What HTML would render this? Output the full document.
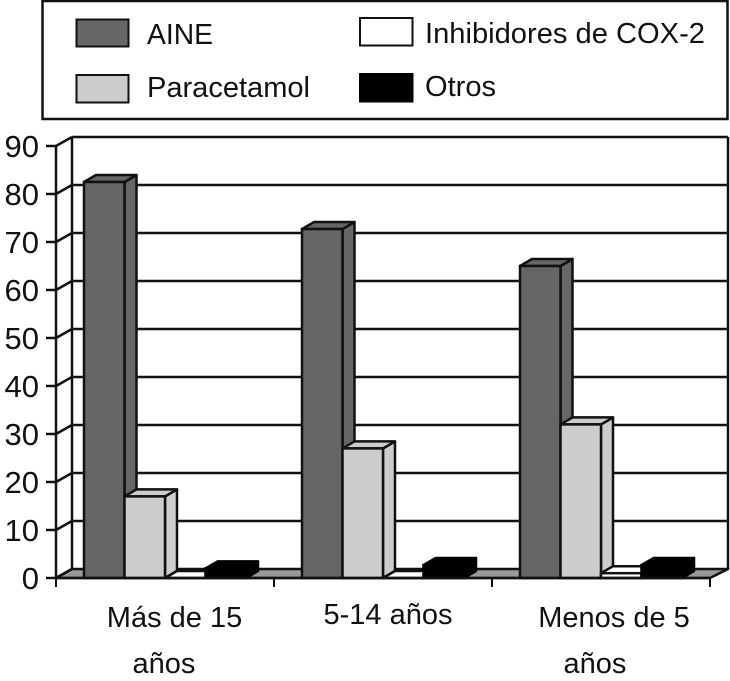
<!DOCTYPE html>
<html lang="es">
<head>
<meta charset="utf-8">
<title>Gráfico de barras</title>
<style>
html,body{margin:0;padding:0;background:#fff;}
svg{display:block;}
text{font-family:"Liberation Sans",sans-serif;fill:#111;}
</style>
</head>
<body>
<svg id="chart" xmlns="http://www.w3.org/2000/svg" width="730" height="681" viewBox="0 0 730 681">
  <g>
    <rect x="42.5" y="1" width="685" height="118" fill="#fff" stroke="#111" stroke-width="2.5"/>
    <rect x="76.5" y="19.5" width="52" height="27" fill="#666" stroke="#111" stroke-width="2"/>
    <text x="147" y="44" font-size="29" textLength="66" lengthAdjust="spacingAndGlyphs">AINE</text>
    <rect x="76.5" y="75" width="52" height="27.5" fill="#ccc" stroke="#111" stroke-width="2"/>
    <text x="147" y="97" font-size="29" textLength="163" lengthAdjust="spacingAndGlyphs">Paracetamol</text>
    <rect x="360" y="18" width="52.5" height="27.5" fill="#fff" stroke="#111" stroke-width="2"/>
    <text x="425" y="43" font-size="29" textLength="280" lengthAdjust="spacingAndGlyphs">Inhibidores de COX-2</text>
    <rect x="360" y="74" width="52.5" height="27.5" fill="#000" stroke="#000" stroke-width="2"/>
    <text x="425" y="96" font-size="29" textLength="71" lengthAdjust="spacingAndGlyphs">Otros</text>
  </g>
  <g id="plot"></g>
</svg>
<script>
var categories = [["Más de 15", "años"], ["5-14 años"], ["Menos de 5", "años"]];
var aine = [82.5, 72.7, 65];
var paracetamol = [17, 27, 32];
var cox2 = [0, 0, 1];
var otros = [2, 2.7, 2.7];
var yTicks = [0, 10, 20, 30, 40, 50, 60, 70, 80, 90];

var seriesList = [
  {name: 'aine', values: aine, fill: '#666'},
  {name: 'paracetamol', values: paracetamol, fill: '#ccc'},
  {name: 'cox-2', values: cox2, fill: '#fff'},
  {name: 'otros', values: otros, fill: '#000'}
];

var X0 = 56, X1 = 710, Y0 = 578, PX_PER_UNIT = 4.8, WALL_DX = 16, WALL_DY = 9;
var RIGHT_WALL_X = 728;
var DEPTH_DX = 12, DEPTH_DY = 7, GAP = 28, INK = '#111', SW = 2.5;
var labelDx1 = [9.5, 5, 13];
var labelDx2 = [-1, 0, -6];
var labelBase1 = [627, 624, 627];

var plot = document.getElementById('plot');
var NS = 'http://www.w3.org/2000/svg';

function y(v) { return Y0 - v * PX_PER_UNIT; }
function groupX(i) { return X0 + i * (X1 - X0) / categories.length; }
function add(tag, attrs, name) {
  var el = document.createElementNS(NS, tag);
  for (var k in attrs) el.setAttribute(k, attrs[k]);
  
  
  plot.appendChild(el);
  return el;
}
function line(x1, y1, x2, y2, name, w) {
  return add('line', {x1: x1, y1: y1, x2: x2, y2: y2, stroke: INK, 'stroke-width': w || SW}, name);
}
function poly(pts, fill, name) {
  return add('polygon', {points: pts.map(function (p) { return p.join(','); }).join(' '),
    fill: fill, stroke: fill === '#000' ? '#000' : INK, 'stroke-width': SW, 'stroke-linejoin': 'round'}, name);
}

var yMax = yTicks[yTicks.length - 1];

poly([[X0, Y0], [X1, Y0], [RIGHT_WALL_X, Y0 - WALL_DY], [X0 + WALL_DX, Y0 - WALL_DY]], '#999', 'floor');

yTicks.forEach(function (t) {
  var py = y(t);
  if (t > 0) line(X0 + WALL_DX, py - WALL_DY, RIGHT_WALL_X, py - WALL_DY, 'gridline-' + t);
  line(X0, py, X0 + WALL_DX, py - WALL_DY, 'wall-tick-' + t);
  line(X0 - 10, py, X0, py, 'y-tick-' + t);
  var label = add('text', {x: 39, y: py + 11, 'font-size': 31, 'text-anchor': 'end'}, 'y-tick-label-' + t);
  label.textContent = String(t);
});

line(X0, y(0), X0, y(yMax), 'y-axis-line');
line(X0 + WALL_DX, y(0) - WALL_DY, X0 + WALL_DX, y(yMax) - WALL_DY, 'back-wall-left-edge');
line(RIGHT_WALL_X, y(0) - WALL_DY, RIGHT_WALL_X, y(yMax) - WALL_DY, 'back-wall-right-edge');

categories.forEach(function (lines, i) {
  var gx = groupX(i);
  var groupW = (X1 - X0) / categories.length;
  var barW = (groupW - 2 * GAP) / seriesList.length;
  seriesList.forEach(function (s, j) {
    var v = s.values[i];
    var xa = gx + GAP + j * barW;
    var xb = xa + barW;
    var top = y(v);
    var base = 'bar-' + s.name + '-' + i;
    poly([[xb, Y0], [xb + DEPTH_DX, Y0 - DEPTH_DY], [xb + DEPTH_DX, top - DEPTH_DY], [xb, top]], s.fill, base + '-side');
    poly([[xa, top], [xb, top], [xb + DEPTH_DX, top - DEPTH_DY], [xa + DEPTH_DX, top - DEPTH_DY]], s.fill, base + '-top');
    add('rect', {x: xa, y: top, width: barW, height: Y0 - top, fill: s.fill,
      stroke: s.fill === '#000' ? '#000' : INK, 'stroke-width': SW}, base);
  });
});

line(X0 - 1, Y0, X1, Y0, 'x-axis-line');

for (var c = 0; c <= categories.length; c++) {
  line(groupX(c), Y0, groupX(c), Y0 + 9, 'x-tick-' + c, 2);
}

categories.forEach(function (lines, i) {
  var cx = groupX(i) + (X1 - X0) / categories.length / 2;
  var first = add('text', {x: cx + labelDx1[i], y: labelBase1[i], 'font-size': 29, 'text-anchor': 'middle'}, 'category-label-' + i);
  first.textContent = lines[0];
  if (lines[1]) {
    var second = add('text', {x: cx + labelDx2[i], y: 673, 'font-size': 29, 'text-anchor': 'middle'}, 'category-label-' + i + '-line-2');
    second.textContent = lines[1];
  }
});
</script>
</body>
</html>
